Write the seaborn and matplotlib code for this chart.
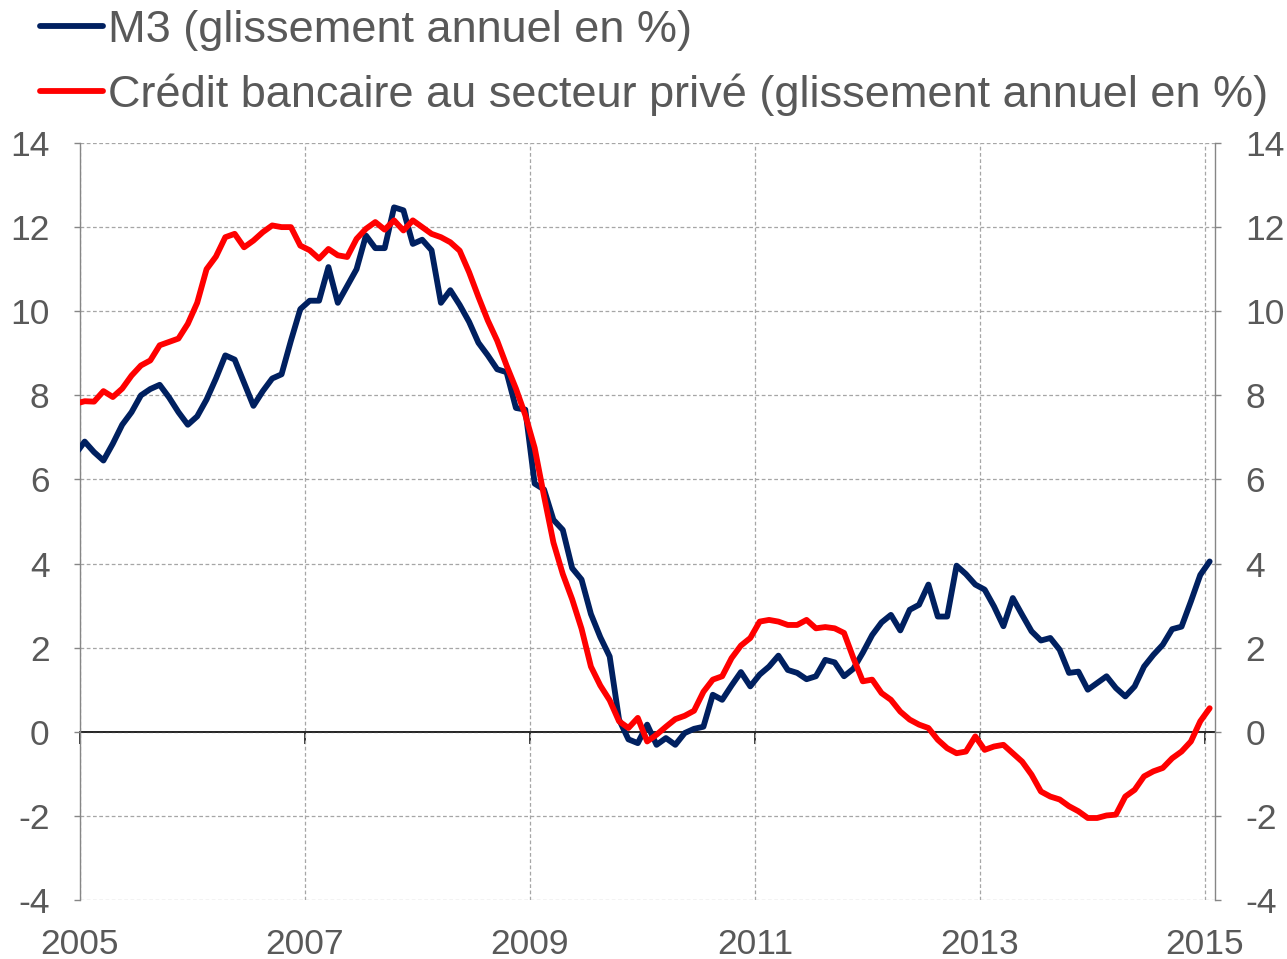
import numpy as np
import pandas as pd
import seaborn as sns
import matplotlib
matplotlib.use("Agg")
import matplotlib.pyplot as plt

# monthly series, Dec 2004 -> Jan 2015 (year-on-year growth, %)
start_month = "2004-12"
m3 = [6.6, 6.9, 6.65, 6.45, 6.85, 7.3, 7.6, 8.0, 8.15, 8.25, 7.95, 7.6, 7.3,
      7.5, 7.9, 8.4, 8.95, 8.85, 8.3, 7.75, 8.1, 8.4, 8.5, 9.3, 10.05,
      10.25, 10.25, 11.05, 10.2, 10.6, 11.0, 11.8, 11.5, 11.5, 12.47, 12.4, 11.6,
      11.7, 11.45, 10.2, 10.5, 10.15, 9.75, 9.25, 8.95, 8.62, 8.55, 7.7, 7.66,
      5.9, 5.76, 5.04, 4.8, 3.89, 3.62, 2.8, 2.25, 1.79, 0.29, -0.18, -0.27, 0.17,
      -0.31, -0.15, -0.31, -0.03, 0.07, 0.12, 0.88, 0.76, 1.1, 1.42, 1.08, 1.36,
      1.55, 1.81, 1.47, 1.4, 1.25, 1.32, 1.71, 1.65, 1.32, 1.5, 1.88, 2.3,
      2.6, 2.78, 2.41, 2.9, 3.02, 3.5, 2.74, 2.74, 3.95, 3.75, 3.5, 3.38,
      2.98, 2.51, 3.18, 2.78, 2.39, 2.17, 2.23, 1.95, 1.4, 1.43, 1.0, 1.16,
      1.32, 1.04, 0.84, 1.08, 1.55, 1.83, 2.07, 2.44, 2.5, 3.1, 3.73, 4.05]
credit = [7.8, 7.86, 7.85, 8.1, 7.96, 8.16, 8.47, 8.71, 8.83, 9.19, 9.27, 9.35, 9.7,
          10.2, 11.0, 11.3, 11.76, 11.84, 11.52, 11.68, 11.88, 12.04, 12.0, 12.0, 11.56,
          11.45, 11.25, 11.48, 11.33, 11.29, 11.72, 11.96, 12.12, 11.94, 12.16, 11.92, 12.16,
          12.0, 11.84, 11.76, 11.64, 11.44, 10.93, 10.34, 9.78, 9.3, 8.71, 8.16, 7.53,
          6.75, 5.6, 4.5, 3.75, 3.15, 2.45, 1.55, 1.1, 0.75, 0.25, 0.09, 0.33, -0.23,
          -0.07, 0.12, 0.3, 0.38, 0.5, 0.95, 1.24, 1.32, 1.75, 2.05, 2.23, 2.62,
          2.66, 2.62, 2.54, 2.54, 2.66, 2.46, 2.49, 2.46, 2.35, 1.75, 1.2, 1.24,
          0.92, 0.76, 0.48, 0.29, 0.17, 0.09, -0.19, -0.39, -0.51, -0.47, -0.11, -0.43,
          -0.35, -0.31, -0.51, -0.71, -1.02, -1.42, -1.54, -1.61, -1.77, -1.89, -2.05, -2.05,
          -1.99, -1.97, -1.54, -1.38, -1.06, -0.94, -0.86, -0.63, -0.47, -0.23, 0.25, 0.56]
series_labels = ["M3 (glissement annuel en %)",
                 "Crédit bancaire au secteur privé (glissement annuel en %)"]
year_ticks = [2005, 2007, 2009, 2011, 2013, 2015]
value_ticks = list(range(-4, 15, 2))

colors = ["#002060", "#FF0000"]
text_grey = "#595959"


def build_frame():
    months = pd.period_range(start_month, periods=len(m3), freq="M")
    x = np.asarray(months.year + (months.month - 0.5) / 12)
    n = len(x)
    return pd.DataFrame({
        "date": np.concatenate([x, x]),
        "value": m3 + credit,
        "serie": [series_labels[0]] * n + [series_labels[1]] * n,
    })


def main():
    sns.set_style("white")
    plt.rcParams["font.family"] = ["Liberation Sans", "DejaVu Sans"]
    plt.rcParams["axes.unicode_minus"] = False

    df = build_frame()

    fig = plt.figure(figsize=(12.87, 9.59), dpi=100)
    ax = fig.add_axes([80 / 1287, 1 - 900 / 959, 1135 / 1287, 757 / 959])

    sns.lineplot(data=df, x="date", y="value", hue="serie", palette=colors,
                 linewidth=4.2, ax=ax, legend=True, zorder=3)

    ymin, ymax = -4, 14
    ax.set_xlim(2005, 2015 + 1.07 / 12)
    ax.set_ylim(ymin, ymax)
    ax.set_xticks(year_ticks)
    ax.set_yticks(value_ticks)
    ax.set_xlabel("")
    ax.set_ylabel("")

    ax.grid(True, color="#A6A6A6", linestyle=(0, (3, 2)), linewidth=0.9)
    for side in ["top", "bottom"]:
        ax.spines[side].set_visible(False)
    for side in ["left", "right"]:
        ax.spines[side].set_visible(True)
        ax.spines[side].set_color("#868686")
        ax.spines[side].set_linewidth(1.0)

    ax.tick_params(axis="y", which="both", left=True, right=True,
                   labelleft=True, labelright=True, direction="out",
                   length=4, width=1, color="#868686", pad=18,
                   labelsize=25.5, labelcolor=text_grey)
    ax.tick_params(axis="x", length=0, pad=20, labelsize=25.5,
                   labelcolor=text_grey)

    # zero line carrying the year ticks
    ax.axhline(0, color="#262626", linewidth=1.3, zorder=2)
    zero_pos = (0 - ymin) / (ymax - ymin)
    sec = ax.secondary_xaxis(zero_pos)
    sec.set_xticks(year_ticks)
    sec.tick_params(direction="out", length=8.5, width=1.3, color="#262626",
                    labelbottom=False)
    sec.spines["bottom"].set_color("#262626")
    sec.spines["bottom"].set_linewidth(1.3)

    handles, labels = ax.get_legend_handles_labels()
    ax.get_legend().remove()
    fig.legend(handles, labels, loc="upper left",
               bbox_to_anchor=(40 / 1287, 1 - 10 / 959), frameon=False,
               fontsize=32.5, labelcolor=text_grey, handlelength=1.4,
               handletextpad=0.1, labelspacing=0.5, borderpad=0,
               borderaxespad=0)

    fig.savefig("out.png", dpi=100)


if __name__ == "__main__":
    main()
